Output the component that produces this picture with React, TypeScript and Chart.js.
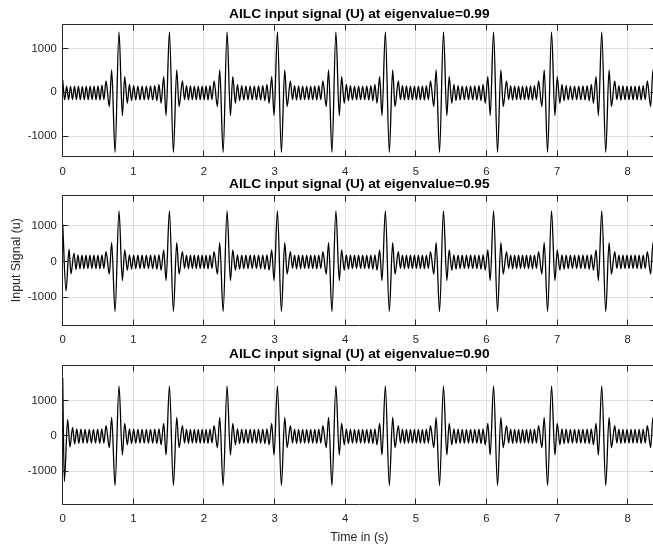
import React, { useEffect, useRef } from 'react';
import { Chart, registerables } from 'chart.js';

Chart.register(...registerables);

const FONT = '"Liberation Sans", Arial, Helvetica, sans-serif';

// ---- shared axis data ----
const xTicks = [0, 1, 2, 3, 4, 5, 6, 7, 8];
const yTicks = [-1000, 0, 1000];
const xMax = 8.4;

// centres of the large bursts (s)
const eventTimes = [0.769, 1.539, 2.299, 3.068, 3.84, 4.596, 5.363, 6.128, 6.893, 7.66, 8.433];
// time offsets (s) of the burst lobes around a burst centre (odd bursts; even bursts are mirrored in time)
const lobeOffsets = [-0.186, -0.156, -0.109, -0.0755, -0.028, 0.028, 0.0755, 0.109, 0.146, 0.176];

// ---- eigenvalue = 0.99 ----
const startT99 = [0];
const startU99 = [280];
const lead99 = [-175, 140, -170, 135, -170, 140, -165, 140, -170, 135, -170, 140, -170, 140, -165, 140, -170, 145, -180, 160];
const lobes99 = [-170, 260, -325, 510, -1370, 1380, -530, 355, -250, 180];
const quietAB99 = [-190, 150, -175, 140, -170, 140, -170, 140, -170, 145, -175, 150, -190];
const quietBA99 = [150, -175, 145, -170, 140, -170, 140, -170, 140, -170, 145, -175, 150];

// ---- eigenvalue = 0.95 ----
const startT95 = [0, 0.047, 0.09, 0.117, 0.16];
const startU95 = [1050, -820, 350, -340, 240];
const lead95 = [-220, 190, -200, 185, -195, 180, -190, 180, -190, 180, -195, 185, -200, 190];
const lobes95 = [-190, 280, -345, 530, -1400, 1420, -530, 330, -240, 190];
const quietAB95 = [-210, 185, -195, 180, -190, 180, -190, 180, -190, 180, -195, 185, -210];
const quietBA95 = [185, -200, 180, -195, 180, -190, 180, -190, 180, -195, 180, -200, 185];

// ---- eigenvalue = 0.90 ----
const startT90 = [0, 0.023, 0.07, 0.103, 0.14];
const startU90 = [1650, -1300, 470, -320, 245];
const lead90 = [-230, 200, -210, 195, -200, 190, -200, 190, -200, 190, -200, 195, -210, 200];
const lobes90 = [-200, 290, -330, 530, -1410, 1425, -540, 360, -250, 200];
const quietAB90 = [-215, 195, -205, 190, -200, 190, -200, 190, -200, 190, -205, 195, -215];
const quietBA90 = [195, -210, 190, -205, 190, -200, 190, -200, 190, -205, 190, -210, 195];

type Pt = { x: number; y: number };

function buildSeries(
  startT: number[],
  startU: number[],
  lead: number[],
  lobes: number[],
  quietAB: number[],
  quietBA: number[]
): Pt[] {
  const pts: Pt[] = startT.map((t, i) => ({ x: t, y: startU[i] }));
  let prevT = startT[startT.length - 1];
  eventTimes.forEach((tc, k) => {
    const typeA = k % 2 === 0;
    const offs = typeA ? lobeOffsets : lobeOffsets.map((o) => -o).reverse();
    const vals = typeA ? lobes : lobes.slice().reverse();
    const gap = k === 0 ? lead : typeA ? quietBA : quietAB;
    const t0 = tc + offs[0];
    const step = (t0 - prevT) / (gap.length + 1);
    gap.forEach((v, i) => pts.push({ x: prevT + step * (i + 1), y: v }));
    offs.forEach((o, i) => pts.push({ x: tc + o, y: vals[i] }));
    prevT = tc + offs[offs.length - 1];
  });
  return pts;
}

const axesBoxPlugin = {
  id: 'axesBox',
  afterDraw(chart: any) {
    const { ctx, chartArea: a, scales } = chart;
    const L = Math.floor(a.left) + 0.5;
    const T = Math.floor(a.top) + 0.5;
    const B = Math.floor(a.bottom) + 0.5;
    const R = Math.floor(a.right) + 0.5;
    ctx.save();
    ctx.strokeStyle = '#262626';
    ctx.lineWidth = 1;
    ctx.beginPath();
    ctx.moveTo(L, T);
    ctx.lineTo(R, T);
    ctx.lineTo(R, B);
    ctx.lineTo(L, B);
    ctx.closePath();
    const len = 6;
    scales.x.ticks.forEach((t: any) => {
      const px = Math.floor(scales.x.getPixelForValue(t.value)) + 0.5;
      ctx.moveTo(px, B);
      ctx.lineTo(px, B - len);
      ctx.moveTo(px, T);
      ctx.lineTo(px, T + len);
    });
    scales.y.ticks.forEach((t: any) => {
      const py = Math.floor(scales.y.getPixelForValue(t.value)) + 0.5;
      ctx.moveTo(L, py);
      ctx.lineTo(L + len, py);
      ctx.moveTo(R, py);
      ctx.lineTo(R - len, py);
    });
    ctx.stroke();
    ctx.restore();
  },
};

type PanelProps = {
  title: string;
  data: Pt[];
  yMin: number;
  yMax: number;
  top: number;
  height: number;
  titlePadTop: number;
  titlePadBottom: number;
  xHeight: number;
  yTitle?: string;
  xTitle?: string;
};

const CANVAS_W = 656;
const Y_AXIS_W = 62.7;

function Panel(p: PanelProps) {
  const ref = useRef<HTMLCanvasElement | null>(null);
  useEffect(() => {
    if (!ref.current) return;
    const chart = new Chart(ref.current, {
      type: 'line',
      data: {
        datasets: [
          {
            data: p.data,
            borderColor: '#000000',
            borderWidth: 1.3,
            pointRadius: 0,
            cubicInterpolationMode: 'monotone',
            fill: false,
          },
        ],
      },
      options: {
        animation: false,
        responsive: false,
        maintainAspectRatio: false,
        devicePixelRatio: 1,
        layout: { padding: 0 },
        plugins: {
          legend: { display: false },
          tooltip: { enabled: false },
          title: {
            display: true,
            text: p.title,
            fullSize: false,
            color: '#000000',
            font: { family: FONT, size: 13.7, weight: 'bold' },
            padding: { top: p.titlePadTop, bottom: p.titlePadBottom },
          },
        },
        scales: {
          x: {
            type: 'linear',
            min: 0,
            max: xMax,
            afterBuildTicks: (s: any) => {
              s.ticks = xTicks.map((v) => ({ value: v }));
            },
            afterFit: (s: any) => {
              s.height = p.xHeight;
            },
            border: { display: false },
            grid: { color: '#dfdfdf', lineWidth: 1, drawTicks: false },
            ticks: {
              color: '#262626',
              padding: 8,
              maxRotation: 0,
              autoSkip: false,
              font: { family: FONT, size: 11.3 },
              callback: (v: any) => String(v),
            },
            title: {
              display: !!p.xTitle,
              text: p.xTitle || '',
              color: '#262626',
              font: { family: FONT, size: 12.4 },
              padding: { top: 0, bottom: 0 },
            },
          },
          y: {
            type: 'linear',
            min: p.yMin,
            max: p.yMax,
            afterBuildTicks: (s: any) => {
              s.ticks = yTicks.map((v) => ({ value: v }));
            },
            afterFit: (s: any) => {
              s.width = Y_AXIS_W;
            },
            border: { display: false },
            grid: { color: '#dfdfdf', lineWidth: 1, drawTicks: false },
            ticks: {
              color: '#262626',
              padding: 6,
              font: { family: FONT, size: 11.3 },
              callback: (v: any) => String(v),
            },
            title: {
              display: !!p.yTitle,
              text: p.yTitle || '',
              color: '#262626',
              font: { family: FONT, size: 12.4 },
              padding: { top: 9, bottom: 0 },
            },
          },
        },
      },
      plugins: [axesBoxPlugin],
    } as any);
    return () => chart.destroy();
  }, []);
  return (
    <canvas
      ref={ref}
      width={CANVAS_W}
      height={p.height}
      style={{ position: 'absolute', left: 0, top: p.top, width: CANVAS_W, height: p.height }}
    />
  );
}

const series99 = buildSeries(startT99, startU99, lead99, lobes99, quietAB99, quietBA99);
const series95 = buildSeries(startT95, startU95, lead95, lobes95, quietAB95, quietBA95);
const series90 = buildSeries(startT90, startU90, lead90, lobes90, quietAB90, quietBA90);

export default function App() {
  return (
    <div
      style={{
        position: 'fixed',
        left: 0,
        top: 0,
        width: 653,
        height: 545,
        overflow: 'hidden',
        background: '#ffffff',
      }}
    >
      <Panel
        title="AILC input signal (U) at eigenvalue=0.99"
        data={series99}
        yMin={-1470}
        yMax={1535}
        top={0}
        height={175}
        titlePadTop={6.3}
        titlePadBottom={2.26}
        xHeight={18.3}
      />
      <Panel
        title="AILC input signal (U) at eigenvalue=0.95"
        data={series95}
        yMin={-1775}
        yMax={1860}
        top={175}
        height={170}
        titlePadTop={0.8}
        titlePadBottom={3.06}
        xHeight={20}
        yTitle="Input Signal (u)"
      />
      <Panel
        title="AILC input signal (U) at eigenvalue=0.90"
        data={series90}
        yMin={-1935}
        yMax={2010}
        top={345}
        height={200}
        titlePadTop={0.8}
        titlePadBottom={3.06}
        xHeight={41}
        xTitle="Time in (s)"
      />
    </div>
  );
}
